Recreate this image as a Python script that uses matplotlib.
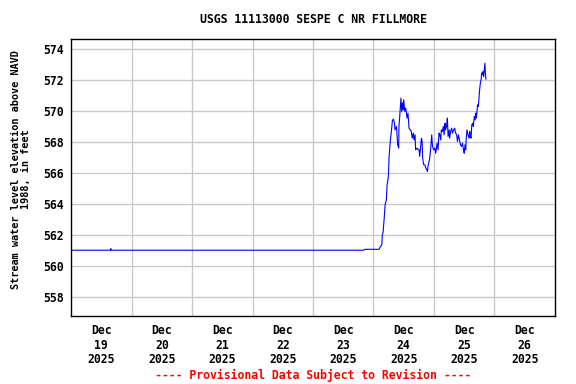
import numpy as np
import matplotlib
matplotlib.use('Agg')
import matplotlib.pyplot as plt
from matplotlib import rcParams
rcParams['font.family'] = 'DejaVu Sans Mono'
rcParams['font.weight'] = 'bold'
rcParams['font.size'] = 8.3

# hours after 2025-12-19 00:00, stage in feet (NAVD 1988)
hours = [0.0, 15.6, 15.8, 16.0, 116.2, 116.5, 122.2, 122.7, 123.3, 123.5,
         123.8, 124.2, 124.6, 125.1, 125.4, 125.9, 126.2, 126.7, 127.1, 127.5,
         127.9, 128.3, 128.5, 129.1, 129.6, 130.0, 130.1, 130.4, 130.9, 131.2,
         131.5, 131.7, 132.0, 132.4, 132.8, 133.3, 133.7, 134.1, 134.6, 135.0,
         135.4, 135.8, 136.1, 136.5, 136.7, 137.3, 137.7, 138.1, 138.3, 138.6,
         139.0, 139.3, 139.5, 139.9, 140.4, 140.8, 141.4, 141.6, 141.9, 142.3,
         142.7, 143.1, 143.4, 143.9, 144.3, 144.7, 145.2, 145.6, 146.0, 146.3,
         146.7, 146.9, 147.3, 147.7, 148.0, 148.4, 148.6, 149.0, 149.3, 149.6,
         150.0, 150.2, 150.6, 151.0, 151.4, 151.8, 152.2, 152.6, 153.0, 153.3,
         153.7, 154.1, 154.5, 154.9, 155.3, 155.7, 156.0, 156.3, 156.6, 156.8,
         157.1, 157.5, 157.9, 158.2, 158.4, 158.7, 159.0, 159.4, 159.6, 160.0,
         160.3, 160.6, 160.8, 161.1, 161.3, 161.6, 161.9, 162.1, 162.4, 162.7,
         162.9, 163.2, 163.5, 163.7, 164.0, 164.2, 164.4, 164.6]
stage = [561.0, 561.0, 561.1, 561.0, 561.0, 561.06, 561.06, 561.23, 561.34, 561.99,
         562.14, 562.96, 563.93, 564.25, 565.22, 565.76, 567.06, 568.13, 568.67, 569.39,
         569.47, 569.25, 568.78, 569.0, 567.81, 567.6, 569.0, 569.64, 570.83, 569.97,
         570.51, 570.07, 570.72, 569.97, 570.18, 569.54, 569.86, 568.89, 568.78, 568.67,
         568.24, 568.57, 568.13, 568.46, 567.49, 567.6, 567.49, 567.49, 567.06, 567.49,
         568.24, 568.03, 566.95, 566.52, 566.52, 566.3, 566.09, 566.41, 566.62, 566.95,
         567.6, 568.46, 567.71, 567.49, 567.6, 567.27, 567.92, 567.49, 568.57, 568.46,
         568.13, 568.78, 568.67, 569.0, 568.46, 569.21, 568.78, 569.0, 569.54, 568.35,
         568.78, 568.24, 568.67, 568.89, 568.57, 568.78, 568.89, 568.57, 568.46, 568.03,
         568.46, 568.13, 567.81, 567.71, 567.92, 567.49, 567.27, 567.81, 567.49, 568.24,
         568.78, 568.46, 568.24, 568.67, 568.35, 568.24, 569.11, 569.21, 569.0, 569.64,
         569.43, 569.86, 569.54, 570.07, 570.4, 570.29, 570.94, 571.37, 571.8, 572.02,
         572.45, 572.34, 572.55, 572.23, 572.77, 573.09, 572.45, 572.06]

yticks = [558, 560, 562, 564, 566, 568, 570, 572, 574]
days = ['19', '20', '21', '22', '23', '24', '25', '26']

base = np.datetime64('2025-12-19T00:00')
t = base + (np.array(hours) * 60).astype('timedelta64[m]')

fig = plt.figure(figsize=(5.76, 3.84), dpi=100)
ax = fig.add_axes([0.1233, 0.1771, 0.8402, 0.7213])
ax.plot(t, stage, color='#0000ff', lw=0.8)

ax.set_xlim(base, base + np.timedelta64(8, 'D'))
ax.set_ylim(556.75, 574.65)
ax.set_yticks(yticks)
ax.set_yticklabels([str(v) for v in yticks])

day_edges = [base + np.timedelta64(i, 'D') for i in range(1, 8)]
ax.set_xticks(day_edges)
ax.set_xticklabels([])
noons = [base + np.timedelta64(12, 'h') + np.timedelta64(i, 'D') for i in range(8)]
ax.set_xticks(noons, minor=True)
ax.set_xticklabels(['Dec\n%s\n2025' % d for d in days], minor=True,
                   linespacing=1.15)
ax.tick_params(axis='both', which='both', length=0)
ax.tick_params(axis='y', pad=5.5)
ax.tick_params(axis='x', which='minor', pad=6)
ax.grid(True, which='major', color='#c8c8c8', lw=1.0)
ax.set_axisbelow(True)
for s in ax.spines.values():
    s.set_linewidth(1.0)
    s.set_color('black')

ax.text(-0.104, 0.53, 'Stream water level elevation above NAVD\n1988, in feet',
        transform=ax.transAxes, rotation=90, ha='center', va='center',
        fontsize=7.4, linespacing=1.0)
ax.text(0.5, 1.07, 'USGS 11113000 SESPE C NR FILLMORE', transform=ax.transAxes,
        ha='center', va='center')
ax.text(0.5, -0.214, '---- Provisional Data Subject to Revision ----',
        transform=ax.transAxes, ha='center', va='center', color='red')

plt.savefig('out.png', dpi=100)
